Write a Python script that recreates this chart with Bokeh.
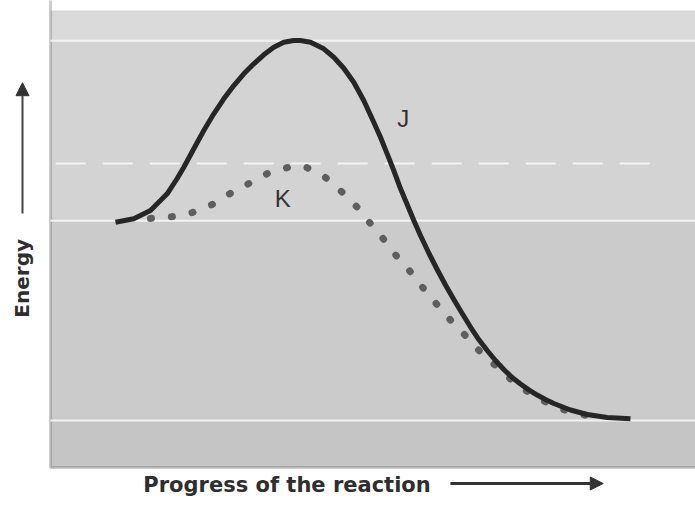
import math
from bokeh.plotting import figure
from bokeh.models import Range1d, Label, Arrow, NormalHead, BoxAnnotation
from bokeh.embed import file_html
from bokeh.resources import INLINE

# ---- data (progress 0-100, energy 0-100) ----
progress_j = [10.08, 12.91, 15.50, 18.09, 19.64, 20.67, 22.22, 23.77, 25.32, 26.87,
              28.42, 29.97, 31.52, 33.07, 34.62, 36.17, 37.72, 38.76, 40.31, 42.37,
              43.92, 45.47, 47.02, 48.57, 50.12, 51.16, 52.20, 53.22, 54.26, 55.30,
              56.33, 57.36, 58.65, 59.95, 61.24, 62.53, 63.83, 65.12, 66.40, 67.71,
              68.99, 70.28, 71.58, 72.87, 74.16, 75.46, 76.74, 78.03, 80.62, 83.21,
              86.31, 89.92]
energy_j = [53.68, 54.42, 56.24, 59.89, 63.24, 65.71, 69.74, 73.74, 77.40, 80.68,
            83.59, 86.15, 88.34, 90.31, 91.97, 93.06, 93.44, 93.44, 93.06, 91.62,
            89.78, 87.37, 84.31, 80.31, 75.56, 72.28, 68.64, 64.99, 61.05, 57.55,
            54.05, 50.77, 46.94, 43.33, 39.93, 36.76, 33.70, 30.74, 28.01, 25.60,
            23.41, 21.44, 19.69, 18.27, 17.00, 15.86, 14.88, 14.00, 12.58, 11.60,
            10.94, 10.66]

progress_k = [15.5, 18.8, 22.0, 25.0, 27.9, 30.7, 33.6, 36.7, 38.3, 39.8, 42.6, 45.1, 47.6,
              49.6, 51.8, 53.8, 56.0, 58.1, 60.3, 62.5, 64.8, 67.0, 69.5, 71.9, 74.6, 77.5,
              80.2, 83.7]
energy_k = [54.5, 54.9, 55.8, 57.5, 60.0, 62.1, 64.3, 65.6, 66.1, 65.6, 63.5, 60.4, 56.9,
            53.4, 49.7, 46.0, 42.5, 38.7, 35.0, 31.5, 28.2, 24.7, 21.7, 18.6, 16.0, 13.8,
            12.3, 11.2]

j_peak_level = 93.4
k_peak_level = 66.5
reactant_level = 54.0
product_level = 10.3
k_level_line_start = 0.8
k_level_line_end = 94.1
axis_min = 0.0
axis_max = 100.0

curve_labels = ["J", "K"]
label_progress = [54.7, 36.0]
label_energy = [76.4, 58.9]

x_title = "Progress of the reaction"
y_title = "Energy"

# ---- figure: the frame covers the whole canvas, the panel is drawn from 0 ----
p = figure(width=695, height=506, output_backend="svg", toolbar_location=None,
           x_range=Range1d(-7.75, 100.0), y_range=Range1d(-8.53, 102.19),
           x_axis_type=None, y_axis_type=None,
           min_border=0)
p.background_fill_color = "white"
p.border_fill_color = "white"
p.outline_line_color = None
p.grid.visible = False

# background bands of the panel
bands = [(j_peak_level, axis_max, "#dadada"),
         (reactant_level, j_peak_level, "#d3d3d3"),
         (product_level, reactant_level, "#cbcbcb"),
         (axis_min, product_level, "#c5c5c5")]
for b, t, c in bands:
    p.add_layout(BoxAnnotation(left=axis_min, bottom=b, top=t, fill_color=c, fill_alpha=1.0,
                               line_color=None, level="underlay"))

# white level lines
levels = [j_peak_level, reactant_level, product_level]
p.segment(x0=[axis_min] * 3, y0=levels, x1=[axis_max + 5] * 3, y1=levels,
          line_color="#f2f2f2", line_width=2)
p.segment(x0=[k_level_line_start], y0=[k_peak_level], x1=[k_level_line_end], y1=[k_peak_level],
          line_color="#f4f4f4", line_width=2, line_dash="30 17")

# axis lines (left and bottom edges of the panel)
p.add_layout(BoxAnnotation(left=axis_min, bottom=axis_min, top=axis_max + 5, right=axis_max + 5,
                           fill_color=None, line_color="#5a5a5a", line_width=3, level="underlay"))

# curves
p.line(progress_k, energy_k, line_color="#5e5e5e", line_width=7, line_dash="1 20",
       line_cap="round", line_join="round")
p.line(progress_j, energy_j, line_color="#262626", line_width=5, line_cap="butt", line_join="round")

for t, xx, yy in zip(curve_labels, label_progress, label_energy):
    p.add_layout(Label(x=xx, y=yy, text=t, text_font="Liberation Sans", text_font_size="24px",
                       text_color="#333333", text_align="center", text_baseline="middle"))

# axis titles with arrows
p.add_layout(Label(x=14.4, y=-3.9, text=x_title, text_font="DejaVu Sans", text_font_style="bold",
                   text_font_size="21px", text_color="#2e2e2e", text_align="left", text_baseline="middle"))
p.add_layout(Arrow(end=NormalHead(size=13, fill_color="#333333", line_color="#333333"),
                   x_start=62.0, y_start=-3.5, x_end=85.7, y_end=-3.5,
                   line_color="#333333", line_width=3))
p.add_layout(Label(x=-4.34, y=41.4, text=y_title, text_font="DejaVu Sans", text_font_style="bold",
                   text_font_size="20px", text_color="#2e2e2e", text_align="center", text_baseline="middle",
                   angle=math.pi / 2))
p.add_layout(Arrow(end=NormalHead(size=13, fill_color="#333333", line_color="#333333"),
                   x_start=-4.34, y_start=55.6, x_end=-4.34, y_end=84.2,
                   line_color="#444444", line_width=2))

open("out.html", "w").write(file_html(p, INLINE))
